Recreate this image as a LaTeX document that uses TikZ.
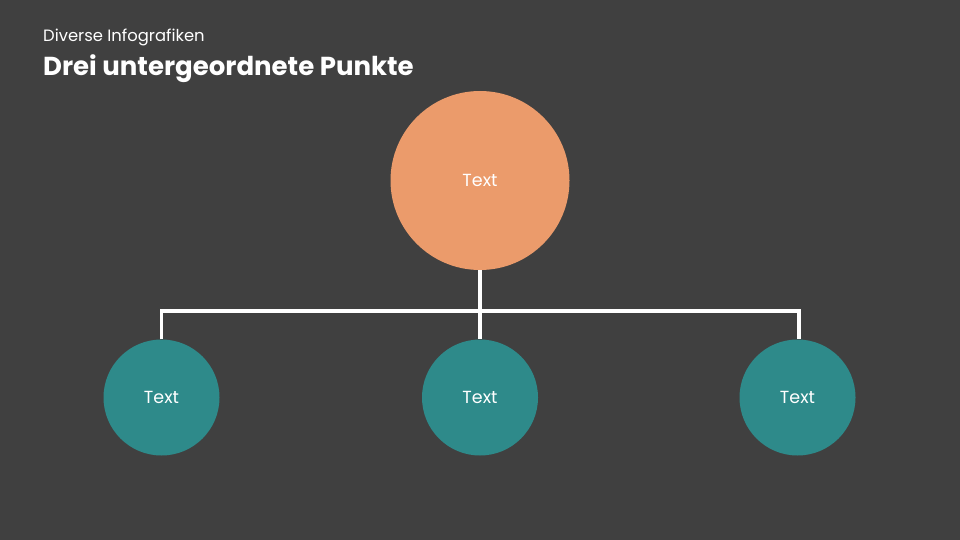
\documentclass[tikz,border=0pt]{standalone}
\usepackage{fontspec}
\setmainfont{Poppins}
\definecolor{bg}{HTML}{404040}
\definecolor{orng}{HTML}{EB9B6B}
\definecolor{teal2}{HTML}{2E8A8A}
\begin{document}
\begin{tikzpicture}[x=1pt,y=-1pt,
  bigc/.style={circle,fill=orng,minimum size=179pt,inner sep=0pt,text=white,font=\fontsize{17.5}{20}\selectfont},
  smallc/.style={circle,fill=teal2,minimum size=116pt,inner sep=0pt,text=white,font=\fontsize{17.5}{20}\selectfont},
  conn/.style={draw=white,line width=3.5pt}]
\fill[bg] (0,0) rectangle (960,540);
\useasboundingbox (0,0) rectangle (960,540);
\node[anchor=base west,text=white,font=\fontsize{16.4}{19}\selectfont,inner sep=0pt] (sub) at (43,42) {Diverse Infografiken};
\node[anchor=base west,text=white,font=\fontsize{26}{30}\selectfont\bfseries,inner sep=0pt] (title) at (43,76) {Drei untergeordnete Punkte};
\node[bigc] (top) at (480,180.5) {Text};
\node[smallc] (l) at (161.5,397.5) {Text};
\node[smallc] (m) at (480,397.5) {Text};
\node[smallc] (r) at (797.5,397.5) {Text};
\coordinate (j) at (480,311);
\coordinate (jl) at (161.5,311);
\coordinate (jr) at (799,311);
\draw[conn] (top.south) -- (j);
\draw[conn,line join=miter] (l.north -| jl) -- (jl) -- (jr) -- (r.north -| jr);
\draw[conn] (j) -- (m.north);
\end{tikzpicture}
\end{document}
